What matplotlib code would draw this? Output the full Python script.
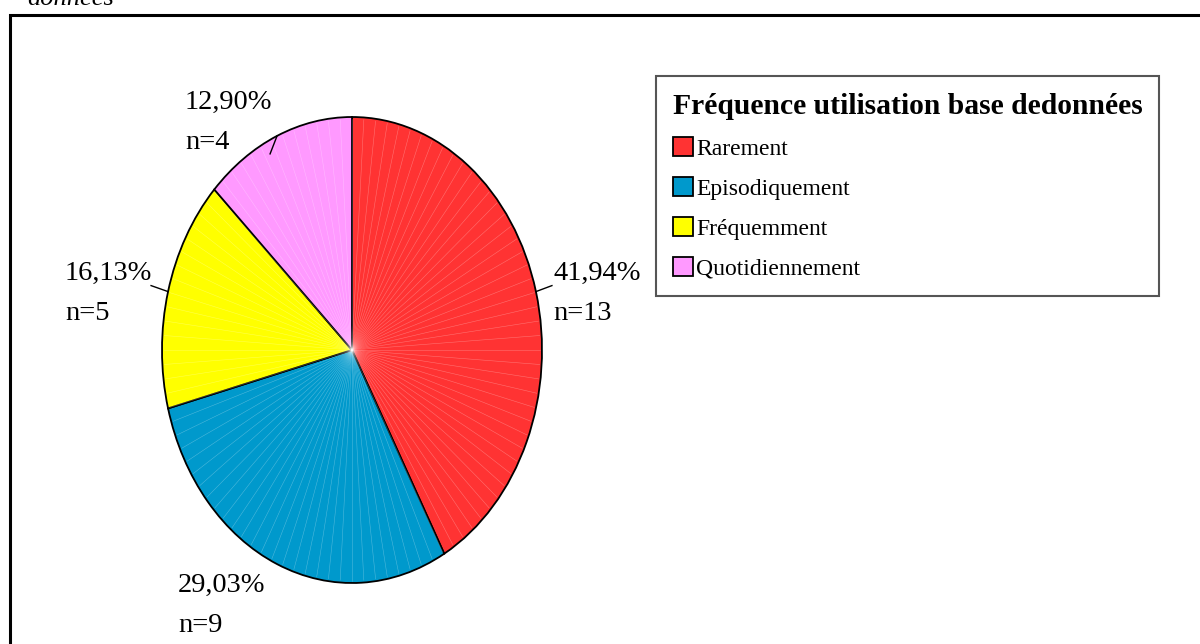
import numpy as np
import matplotlib.pyplot as plt
from matplotlib.patches import Rectangle

plt.rcParams['font.family'] = ['Liberation Serif', 'DejaVu Serif']

categories = ['Rarement', 'Episodiquement', 'Fréquemment', 'Quotidiennement']
counts = [13, 9, 5, 4]
colors = ['#FF3333', '#0099CC', '#FFFF00', '#FF99FF']
legend_title = 'Fréquence utilisation base dedonnées'

W, H = 1200, 644


def fx(x):
    return x / W


def fy(y):
    return 1 - y / H


fig = plt.figure(figsize=(12, 6.44), dpi=100)

# cadre de la figure (coupé à droite et en bas)
fig.add_artist(Rectangle((fx(10), -0.1), 1.2, fy(15) + 0.1, transform=fig.transFigure,
                         fill=False, edgecolor='black', lw=2.2))
fig.text(fx(27), fy(5), 'données', fontsize=19, style='italic', va='baseline')

# camembert étiré (ellipse)
ax = fig.add_axes([fx(162), fy(583), fx(542) - fx(162), fy(117) - fy(583)])
wedges, _ = ax.pie(counts, colors=colors, startangle=90, counterclock=False,
                   wedgeprops=dict(edgecolor='black', linewidth=1.3))
ax.set_aspect('auto')
ax.set_xlim(-1, 1)
ax.set_ylim(-1, 1)

# stries blanches radiales
for a in np.arange(0, 360, 3.6):
    t = np.radians(a)
    ax.plot([0, 0.99 * np.cos(t)], [0, 0.99 * np.sin(t)],
            color='white', lw=0.4, alpha=0.3, zorder=1.5)

total = sum(counts)
pcts = [c / total * 100 for c in counts]

# positions des étiquettes (x gauche, ligne de base de la 1re ligne)
label_pos = [(553, 280), (178, 592), (65, 280), (185, 109)]
for p, c, (x, y) in zip(pcts, counts, label_pos):
    fig.text(fx(x), fy(y), f'{p:.2f}%'.replace('.', ','), fontsize=20.5, va='baseline')
    fig.text(fx(x), fy(y + 40), f'n={c}', fontsize=20.5, va='baseline')

# traits de rappel
leaders = {0: (16, -6), 2: (-17, -6), 3: (-7, 18)}
for i, (dx, dy) in leaders.items():
    w = wedges[i]
    t = np.radians((w.theta1 + w.theta2) / 2)
    x0, y0 = np.cos(t), np.sin(t)
    ax.plot([x0, x0 + dx / 190], [y0, y0 - dy / 233], color='black', lw=1,
            zorder=5, clip_on=False)

leg = fig.legend(wedges, categories, title=legend_title, loc='upper left',
                 bbox_to_anchor=(fx(656), fy(76)), borderaxespad=0,
                 prop={'size': 17}, title_fontproperties={'weight': 'bold', 'size': 21.3},
                 fancybox=False, framealpha=1, edgecolor='#555555',
                 handlelength=0.85, handleheight=0.85, handletextpad=0.15,
                 labelspacing=0.74, borderpad=0.7, alignment='left')
leg.get_frame().set_linewidth(1.5)

fig.savefig('out.png', dpi=100)
